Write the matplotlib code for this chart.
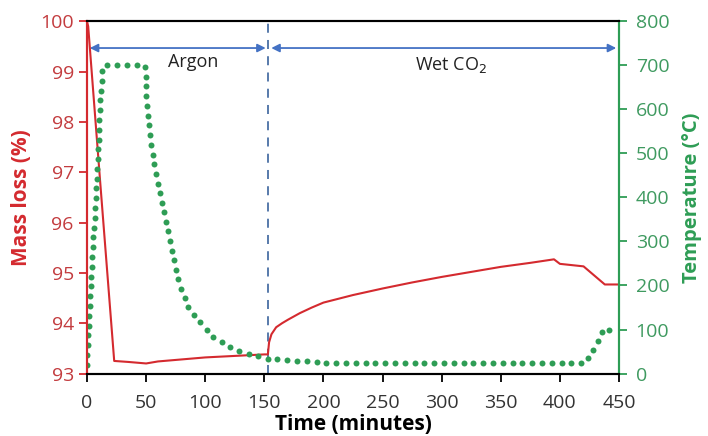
import numpy as np
import matplotlib
matplotlib.use("Agg")
import matplotlib.pyplot as plt

plt.rcParams['font.family'] = ['Open Sans', 'DejaVu Sans']

# mass loss curve (time in minutes, mass in %)
mass_t = [0, 1, 11, 23, 35, 50, 60, 100, 150, 153, 154, 156, 160, 165, 170, 180, 190, 200, 225, 250,
          275, 300, 325, 350, 375, 395, 400, 420, 438, 450]
mass_v = [100, 99.9, 96.85, 93.25, 93.23, 93.2, 93.24, 93.32, 93.38, 93.38, 93.62, 93.78, 93.92, 94.0,
          94.07, 94.2, 94.31, 94.41, 94.56, 94.69, 94.81, 94.92, 95.02, 95.12, 95.2, 95.27, 95.18, 95.13,
          94.77, 94.77]

# temperature curve (time in minutes, degC)
temp_t = [0, 2.5, 7, 8.7, 11, 13.5, 49, 50.5, 53, 59, 64.5, 71.6, 78.7, 85.7, 95.6, 106.7, 123.6,
          140.6, 153, 200, 300, 421, 427, 431, 434, 437.4, 442, 446.7]
temp_v = [20, 170, 380, 460, 620, 700, 700, 620, 545, 439, 378, 280, 196, 151, 117, 83, 57,
          41, 34, 25, 23, 23, 48, 68, 86, 103, 98, 83]

switch_t = 153.5
arrow_y = 99.47

red = '#d42a2f'
red_txt = '#c33c3f'
green = '#2e9d55'
green_txt = '#3f9a60'
blue = '#4472c4'

fig = plt.figure(figsize=(7.08, 4.36), dpi=100)
ax = fig.add_axes([0.1229, 0.1433, 0.7514, 0.8077])
ax2 = ax.twinx()

ax.plot(mass_t, mass_v, color=red, lw=1.5, zorder=3)

# sample the temperature line so dots are evenly spaced along it
tt = np.array(temp_t, dtype=float)
tv = np.array(temp_v, dtype=float)
sx = tt * 1.182
sy = tv * 0.44
seg = np.hypot(np.diff(sx), np.diff(sy))
s = np.concatenate([[0], np.cumsum(seg)])
sd = np.arange(0, s[-1], 9.8)
dots_t = np.interp(sd, s, tt)
dots_v = np.interp(sd, s, tv)
ax2.plot(dots_t, dots_v, ls='none', marker='o', ms=4.3, color=green, mec='none')

ax.set_xlim(0, 450)
ax.set_ylim(93, 100)
ax2.set_ylim(0, 800)
ax.set_xticks(np.arange(0, 451, 50))
ax.set_yticks(np.arange(93, 100.1, 1))
ax2.set_yticks(np.arange(0, 801, 100))

ax.axvline(switch_t, color='#4a6fa5', ls=(0, (5, 4)), lw=1.3)

ax.annotate('', xy=(0, arrow_y), xytext=(switch_t, arrow_y),
            arrowprops=dict(arrowstyle='<|-|>', color=blue, lw=1.3, mutation_scale=12))
ax.annotate('', xy=(switch_t, arrow_y), xytext=(450, arrow_y),
            arrowprops=dict(arrowstyle='<|-|>', color=blue, lw=1.3, mutation_scale=12))
ax.text(90, 99.2, 'Argon', ha='center', va='center', fontsize=13, color='#222222')
ax.text(308, 99.14, 'Wet CO$_2$', ha='center', va='center', fontsize=13, color='#222222')

for a in (ax, ax2):
    a.spines['top'].set_color('black')
    a.spines['bottom'].set_color('black')
    a.spines['left'].set_color(red)
    a.spines['right'].set_color(green)
    for sp in a.spines.values():
        sp.set_linewidth(1.5)

ax.tick_params(axis='x', direction='out', length=6, width=1.3, colors='black',
               labelsize=14, labelcolor='#333333', pad=9)
ax.tick_params(axis='y', direction='out', length=6, width=1.3, colors=red,
               labelsize=14, labelcolor=red_txt)
ax2.tick_params(axis='y', direction='out', length=6, width=1.3, colors=green,
                labelsize=14, labelcolor=green_txt, pad=6)

ax.set_xlabel('Time (minutes)', fontsize=15, fontweight='bold', labelpad=1)
ax.set_ylabel('Mass loss (%)', fontsize=15, fontweight='bold', color=red, labelpad=6)
ax2.set_ylabel('Temperature (°C)', fontsize=14.5, fontweight='bold', color=green, labelpad=9)

fig.savefig('out.png', dpi=100)
